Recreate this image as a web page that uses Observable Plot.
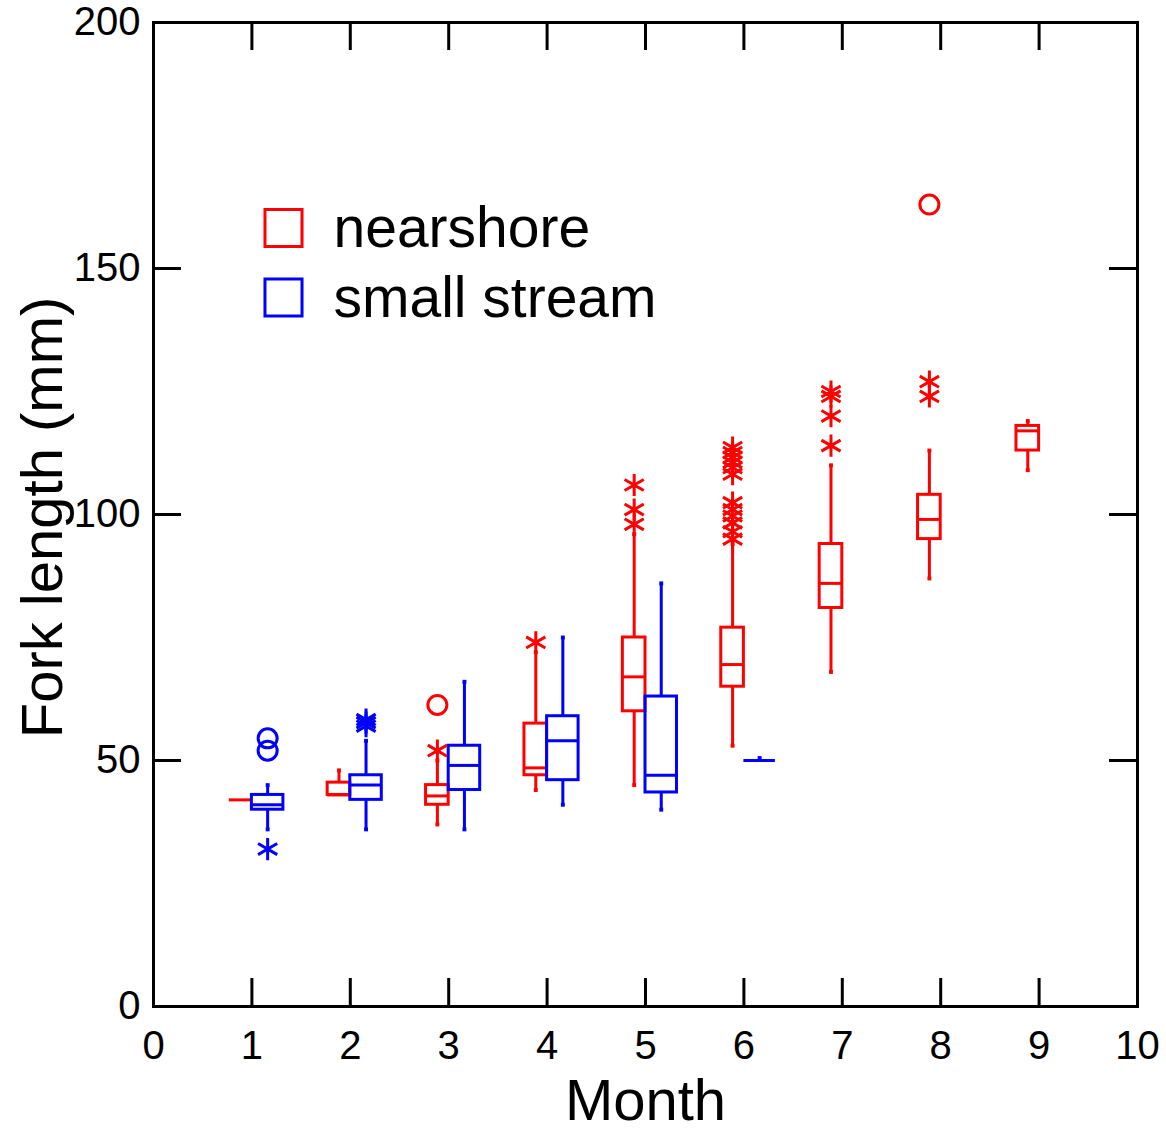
<!DOCTYPE html>
<html><head><meta charset="utf-8">
<script src="https://cdn.jsdelivr.net/npm/d3@7"></script>
<script src="https://cdn.jsdelivr.net/npm/@observablehq/plot@0.6"></script>
<style>body{margin:0;background:#fff;} #chart svg{display:block;}</style>
</head><body><div id="chart"></div>
<script>
// ---- data ----
const xTicks = [0,1,2,3,4,5,6,7,8,9,10];
const yTicks = [0,50,100,150,200];
const seriesNames = ["nearshore", "small stream"];

const nearMonths = [1,2,3,4,5,6,7,8,9];
const nearLo  = [42,43,37,44,45,53,68,87,109];
const nearQ1  = [42,43,41,47,60,65,81,95,113];
const nearMed = [42,43,42.8,48.5,67,69.5,86,99,117];
const nearQ3  = [42,45.5,45,57.5,75,77,94,104,118];
const nearHi  = [42,48,50,72,96,94,110,113,119];

const streamMonths = [1,2,3,4,5,6];
const streamLo  = [36,36,36,41,40,50];
const streamQ1  = [40,42,44,46,43.5,50];
const streamMed = [41,45,49,54,47,50];
const streamQ3  = [43,47,53,59,63,50];
const streamHi  = [45,54,66,75,86,50.5];

const nearStarMonth = [3,4,5,5,5,6,6,6,6,6,6,6,6,6,6,6,6,7,7,7,7,8,8];
const nearStarValue = [52,74,98,101,106,95,96.5,98.3,99.7,101,102.4,108.2,109.5,110.6,111.6,112.6,113.6,114,120,124,125,124,127];
const nearCircleMonth = [3,8];
const nearCircleValue = [61.3,163];
const streamStarMonth = [1,2,2,2];
const streamStarValue = [32,57,57.7,58.3];
const streamCircleMonth = [1,1];
const streamCircleValue = [52,54.5];

// ---- layout / style ----
const W = 1166, H = 1132;
const mL = 153, mR = 29, mT = 22, mB = 126;
const frameW = W - mL - mR, frameH = H - mT - mB;
const tickLen = 28;
const RED = "#ff0000", BLUE = "#0000ff";
const FONT = "'Liberation Sans', Arial, Helvetica, sans-serif";

const near = nearMonths.map((m,i)=>({m, lo:nearLo[i], q1:nearQ1[i], med:nearMed[i], q3:nearQ3[i], hi:nearHi[i]}));
const stream = streamMonths.map((m,i)=>({m, lo:streamLo[i], q1:streamQ1[i], med:streamMed[i], q3:streamQ3[i], hi:streamHi[i]}));

function boxMarks(data, color, left, right) {
  const c = d => d.m + (left + right) / 2;
  const sw = 3;
  return [
    Plot.ruleX(data.filter(d=>d.hi>d.q3), {x: c, y1: "q3", y2: "hi", stroke: color, strokeWidth: sw}),
    Plot.ruleX(data.filter(d=>d.lo<d.q1), {x: c, y1: "lo", y2: "q1", stroke: color, strokeWidth: sw}),
    Plot.dot(data.filter(d=>d.hi>d.q3), {x: c, y: "hi", symbol: "square", r: 2.2, fill: color, stroke: null}),
    Plot.dot(data.filter(d=>d.lo<d.q1), {x: c, y: "lo", symbol: "square", r: 2.2, fill: color, stroke: null}),
    Plot.rect(data, {x1: d=>d.m+left, x2: d=>d.m+right, y1: "q1", y2: "q3", fill: "none", stroke: color, strokeWidth: d => d.q1 === d.q3 && d.lo === d.q1 && d.hi > d.q3 ? 4.5 : sw}),
    Plot.ruleY(data, {y: "med", x1: d=>d.m+left, x2: d=>d.m+right, stroke: color, strokeWidth: sw})
  ];
}
function outlierMarks(months, values, symbol, color, offset, r) {
  const data = months.map((m,i)=>({m, v: values[i]}));
  return Plot.dot(data, {x: d=>d.m+offset, y: "v", symbol, r, stroke: color, fill: "none", strokeWidth: 3});
}

const nL = -0.23, nR = 0.0, sL = 0.0, sR = 0.32;

const chart = Plot.plot({
  width: W, height: H,
  marginLeft: mL, marginRight: mR, marginTop: mT, marginBottom: mB,
  style: {fontFamily: FONT, background: "white", overflow: "visible", color: "black"},
  x: {domain: [0,10], axis: null},
  y: {domain: [0,200], axis: null},
  marks: [
    // inward ticks on four sides
    Plot.tickX(xTicks.slice(1,-1), {x: d=>d, insetTop: frameH - tickLen, stroke: "black", strokeWidth: 3}),
    Plot.tickX(xTicks.slice(1,-1), {x: d=>d, insetBottom: frameH - tickLen, stroke: "black", strokeWidth: 3}),
    Plot.tickY(yTicks.slice(1,-1), {y: d=>d, insetRight: frameW - tickLen, stroke: "black", strokeWidth: 3}),
    Plot.tickY(yTicks.slice(1,-1), {y: d=>d, insetLeft: frameW - tickLen, stroke: "black", strokeWidth: 3}),
    Plot.frame({stroke: "black", strokeWidth: 3}),
    // tick labels
    Plot.axisX({ticks: xTicks, anchor: "bottom", tickSize: 0, tickPadding: 24, fontSize: 40, label: null, tickFormat: d=>String(d)}),
    Plot.axisY({ticks: yTicks, anchor: "left", tickSize: 0, tickPadding: 13, fontSize: 40, label: null, tickFormat: d=>String(d)}),
    // boxes
    ...boxMarks(near, RED, nL, nR),
    ...boxMarks(stream, BLUE, sL, sR),
    // outliers
    outlierMarks(nearStarMonth, nearStarValue, "asterisk", RED, (nL+nR)/2, 10.5),
    outlierMarks(nearCircleMonth, nearCircleValue, "circle", RED, (nL+nR)/2, 9.5),
    outlierMarks(streamStarMonth, streamStarValue, "asterisk", BLUE, (sL+sR)/2, 10.5),
    outlierMarks(streamCircleMonth, streamCircleValue, "circle", BLUE, (sL+sR)/2, 9.5),
    // legend
    Plot.dot([seriesNames[0]], {frameAnchor: "top-left", dx: 130, dy: 205.5, symbol: "square", r: 20.9, stroke: RED, fill: "none", strokeWidth: 3}),
    Plot.dot([seriesNames[1]], {frameAnchor: "top-left", dx: 130, dy: 275, symbol: "square", r: 20.9, stroke: BLUE, fill: "none", strokeWidth: 3}),
    Plot.text([seriesNames[0]], {frameAnchor: "top-left", dx: 180, dy: 206.5, text: d=>d, textAnchor: "start", lineAnchor: "middle", fontSize: 57, fill: "black"}),
    Plot.text([seriesNames[1]], {frameAnchor: "top-left", dx: 180, dy: 276, text: d=>d, textAnchor: "start", lineAnchor: "middle", fontSize: 57, fill: "black"}),
    // axis titles
    Plot.text(["Month"], {frameAnchor: "bottom", dy: 95, text: d=>d, textAnchor: "middle", lineAnchor: "middle", fontSize: 58, fill: "black"}),
    Plot.text(["Fork length (mm)"], {frameAnchor: "left", dx: -110, dy: 3, rotate: -90, text: d=>d, textAnchor: "middle", lineAnchor: "middle", fontSize: 58, fill: "black"})
  ]
});
document.getElementById("chart").appendChild(chart);
</script>
</body></html>
